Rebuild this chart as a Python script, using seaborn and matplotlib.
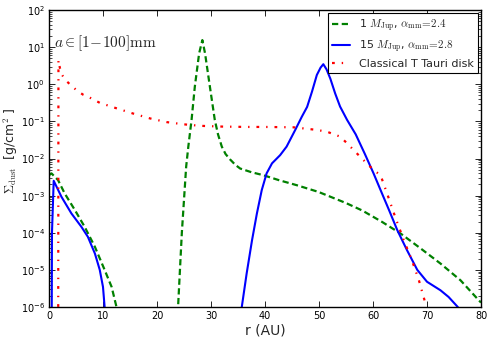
import numpy as np
import pandas as pd
import matplotlib
matplotlib.use("Agg")
import matplotlib.pyplot as plt
import seaborn as sns

# ---- data: radius (AU) and log10 of Sigma_dust (g/cm^2) ----
r_1mj = [0.0, 0.45, 1.67, 2.9, 4.8, 6.6, 8.5, 10.3, 11.6, 12.5, 13.3, 23.2, 23.9, 24.6,
         25.4, 25.8, 26.4, 27.0, 27.8, 28.4, 28.9, 29.8, 30.7, 31.3, 32.0, 32.7, 33.5,
         34.5, 35.4, 37.5, 39.7, 42.5, 45.9, 49.9, 55.0, 58.0, 61.7, 65.1, 68.8, 72.5,
         76.2, 79.6, 80.0]
logs_1mj = [-2.45, -2.40, -2.58, -2.94, -3.39, -3.84, -4.38, -5.00, -5.46, -6.00, -7.5,
            -7.5, -6.00, -4.00, -2.22, -1.68, -0.96, -0.07, 0.83, 1.19, 0.83, -0.07,
            -0.96, -1.35, -1.68, -1.88, -2.02, -2.17, -2.27, -2.37, -2.45, -2.58, -2.72,
            -2.90, -3.20, -3.40, -3.71, -4.02, -4.42, -4.83, -5.28, -5.82, -5.88]

r_15mj = [0.45, 0.55, 0.87, 2.3, 4.15, 6.0, 7.2, 8.5, 9.4, 10.0, 10.3, 10.8, 35.2, 35.7,
          36.6, 37.6, 38.5, 39.4, 40.3, 41.3, 42.8, 44.0, 45.6, 46.8, 47.8, 48.7, 49.6,
          50.3, 50.8, 51.4, 52.1, 53.0, 53.9, 55.2, 56.8, 58.5, 60.1, 61.4, 63.0, 64.5,
          66.3, 68.2, 70.0, 72.5, 74.0, 75.7, 77.0]
logs_15mj = [-9.0, -4.0, -2.60, -3.03, -3.48, -3.84, -4.11, -4.56, -5.00, -5.46, -6.00,
             -7.5, -7.5, -6.00, -5.10, -4.20, -3.48, -2.85, -2.40, -2.13, -1.91, -1.68,
             -1.23, -0.88, -0.61, -0.20, 0.25, 0.45, 0.54, 0.40, 0.15, -0.25, -0.60,
             -0.96, -1.35, -1.88, -2.40, -2.85, -3.40, -3.93, -4.47, -5.00, -5.32, -5.55,
             -5.73, -6.00, -6.60]

r_ctt = [1.6, 1.7, 1.75, 2.0, 2.3, 3.0, 4.0, 5.1, 6.3, 7.55, 9.4, 11.9, 15.6, 18.7, 21.8,
         25.0, 28.0, 32.0, 36.6, 40.0, 45.3, 49.6, 51.5, 53.9, 55.2, 57.6, 60.1, 61.4,
         62.6, 64.1, 65.7, 67.2, 68.5, 69.7, 70.5]
logs_ctt = [-9.0, -7.0, 0.65, 0.45, 0.28, 0.12, -0.02, -0.16, -0.28, -0.36, -0.50, -0.62,
            -0.79, -0.92, -1.02, -1.08, -1.12, -1.14, -1.15, -1.15, -1.16, -1.23, -1.28,
            -1.41, -1.59, -1.95, -2.31, -2.45, -2.94, -3.57, -4.20, -4.74, -5.28, -5.90,
            -6.60]

labels = [r"1 $M_{\rm Jup}$, $\alpha_{\rm mm}\!=\!2.4$",
          r"15 $M_{\rm Jup}$, $\alpha_{\rm mm}\!=\!2.8$",
          "Classical T Tauri disk"]
xticks = [0, 10, 20, 30, 40, 50, 60, 70, 80]

# ---- style ----
sns.set_style("ticks")
plt.rcParams.update({
    "font.family": ["DejaVu Sans"],
    "mathtext.fontset": "cm",
    "xtick.direction": "in", "ytick.direction": "in",
    "xtick.top": True, "ytick.right": True,
    "xtick.major.size": 4, "ytick.major.size": 4,
    "xtick.minor.size": 2, "ytick.minor.size": 2,
    "xtick.major.width": 0.6, "ytick.major.width": 0.6,
    "xtick.minor.width": 0.5, "ytick.minor.width": 0.5,
    "axes.linewidth": 1.0, "axes.edgecolor": "black",
    "xtick.color": "black", "ytick.color": "black",
    "lines.scale_dashes": False,
})

fig = plt.figure(figsize=(4.91, 3.42), dpi=100)
ax = fig.add_axes([49/491, 35/342, 432/491, 297/342])

df1 = pd.DataFrame({"r": r_1mj, "s": 10.0 ** np.array(logs_1mj)})
df2 = pd.DataFrame({"r": r_15mj, "s": 10.0 ** np.array(logs_15mj)})
df3 = pd.DataFrame({"r": r_ctt, "s": 10.0 ** np.array(logs_ctt)})

sns.lineplot(data=df1, x="r", y="s", ax=ax, color="#008000", lw=1.6,
             linestyle=(0, (4.5, 2.5)), label=labels[0], sort=False)
sns.lineplot(data=df2, x="r", y="s", ax=ax, color="#0000ff", lw=1.5,
             label=labels[1], sort=False)
sns.lineplot(data=df3, x="r", y="s", ax=ax, color="#ff0000", lw=1.6,
             linestyle=(0, (2, 5, 1, 5)), label=labels[2], sort=False)

ax.set_yscale("log")
ax.set_xlim(0, 80)
ax.set_ylim(1e-6, 1e2)
ax.set_xticks(xticks)
ax.tick_params(axis="both", which="major", labelsize=7, pad=3)

ax.set_xlabel("r (AU)", fontsize=10, labelpad=2)
ax.set_ylabel(r"$\Sigma_{\rm dust}$  [g/cm$^2$ ]", fontsize=9)
ax.yaxis.set_label_coords(-0.068, 0.525)

ax.text(0.012, 0.889, r"$a\in[1\!-\!100]\mathrm{mm}$", transform=ax.transAxes,
        fontsize=11, ha="left", va="center")

leg = ax.legend(loc="upper right", fontsize=8, handlelength=1.6, frameon=True,
                fancybox=False, edgecolor="black", framealpha=1,
                borderaxespad=0.3, labelspacing=0.4, handletextpad=0.8,
                borderpad=0.35)
leg.get_frame().set_linewidth(0.8)

fig.savefig("out.png", dpi=100)
